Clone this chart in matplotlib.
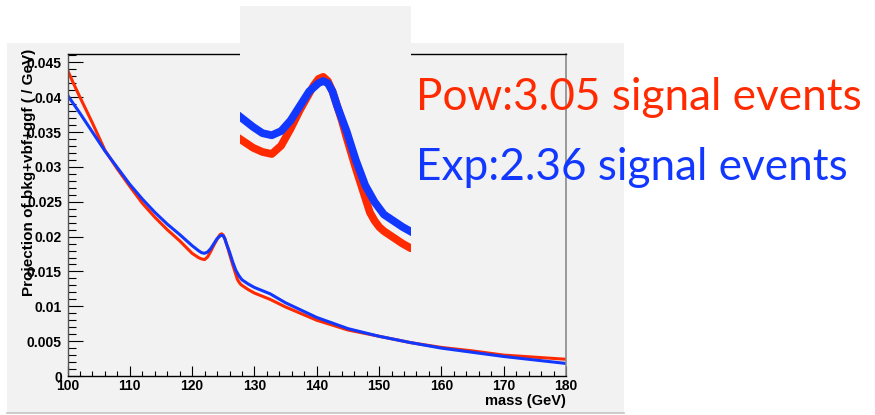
import matplotlib
matplotlib.use("Agg")
import matplotlib.pyplot as plt
from matplotlib.patches import Rectangle
from matplotlib.ticker import MultipleLocator, FixedFormatter, FixedLocator

# Diphoton mass projection of the bkg+vbf+ggf model, two background shapes
mass = [100, 101, 102, 104, 106, 108, 110, 112, 114, 116, 118, 120, 121,
        121.5, 122, 122.5, 123, 123.5, 124, 124.25, 124.5, 124.75, 125,
        125.25, 125.5, 125.75, 126, 126.5, 127, 127.25, 127.5, 127.75, 128,
        128.5, 129, 130, 132.5, 135, 140, 145, 150, 155, 160, 165, 170, 175,
        180]
pow_shape = [0.0439, 0.0419, 0.0400, 0.0363, 0.0324, 0.0297, 0.0272, 0.0248,
             0.0228, 0.0210, 0.0194, 0.0176, 0.0170, 0.0168, 0.0167, 0.0171,
             0.0179, 0.0188, 0.0196, 0.0200, 0.0203, 0.0204, 0.0202, 0.0197,
             0.0190, 0.0183, 0.0175, 0.0160, 0.0146, 0.0139, 0.0135, 0.0132,
             0.0130, 0.0127, 0.0124, 0.0119, 0.0110, 0.0099, 0.0080, 0.0066,
             0.0057, 0.0048, 0.0041, 0.0036, 0.0030, 0.0027, 0.0024]
exp_shape = [0.0403, 0.0390, 0.0377, 0.0350, 0.0323, 0.0299, 0.0275, 0.0254,
             0.0235, 0.0218, 0.0203, 0.0187, 0.0180, 0.0177, 0.0176, 0.0178,
             0.0183, 0.0190, 0.0197, 0.0199, 0.0201, 0.0202, 0.0201, 0.0197,
             0.0190, 0.0184, 0.0178, 0.0164, 0.0152, 0.0148, 0.0144, 0.0141,
             0.0138, 0.0135, 0.0132, 0.0127, 0.0118, 0.0105, 0.0084, 0.0068,
             0.0057, 0.0048, 0.0040, 0.0034, 0.0028, 0.0023, 0.0018]

x_major = [100, 110, 120, 130, 140, 150, 160, 170, 180]
y_major = [0, 0.005, 0.01, 0.015, 0.02, 0.025, 0.03, 0.035, 0.04, 0.045]
y_tick_labels = ["0", "0.005", "0.01", "0.015", "0.02", "0.025", "0.03",
                 "0.035", "0.04", "0.045"]

pow_label = "Pow:3.05 signal events"
exp_label = "Exp:2.36 signal events"

RED = "#ff2a00"
BLUE = "#1238ff"
PANEL = "#f2f2f2"

W, H = 875, 415
fig = plt.figure(figsize=(W / 100, H / 100), dpi=100)
fig.patch.set_facecolor("white")

def fx(px):
    return px / W

def fy(py):
    return (H - py) / H

# canvas panel behind the frame
fig.add_artist(Rectangle((fx(7), fy(413)), fx(624) - fx(7), fy(43) - fy(413),
                         transform=fig.transFigure, facecolor=PANEL,
                         edgecolor="none", zorder=-10))
fig.add_artist(plt.Line2D([fx(7), fx(624)], [fy(413), fy(413)],
                          transform=fig.transFigure, color="#c4c4c4", lw=1.2,
                          zorder=-9))

ax = fig.add_axes([fx(67.5), fy(376), fx(566) - fx(67.5), fy(54) - fy(376)])
ax.set_facecolor(PANEL)
ax.plot(mass, pow_shape, color=RED, lw=2.2, solid_capstyle="butt",
        solid_joinstyle="round")
ax.plot(mass, exp_shape, color=BLUE, lw=2.2, solid_capstyle="butt",
        solid_joinstyle="round")
ax.set_xlim(100, 180)
ax.set_ylim(0, 0.0462)

ax.xaxis.set_major_locator(FixedLocator(x_major))
ax.xaxis.set_minor_locator(MultipleLocator(2))
ax.yaxis.set_major_locator(FixedLocator(y_major))
ax.yaxis.set_major_formatter(FixedFormatter(y_tick_labels))
ax.yaxis.set_minor_locator(MultipleLocator(0.001))
ax.tick_params(axis="both", which="both", direction="in", colors="black",
               width=0.8, top=False, right=False)
ax.tick_params(axis="y", which="major", length=11, pad=4)
ax.tick_params(axis="y", which="minor", length=5.8)
ax.tick_params(axis="x", which="major", length=7.2, pad=2)
ax.tick_params(axis="x", which="minor", length=3.6)
for lab in ax.get_xticklabels() + ax.get_yticklabels():
    lab.set_fontfamily("Liberation Sans")
    lab.set_fontweight("bold")
    lab.set_fontsize(10)
for side in ("left", "bottom", "top"):
    ax.spines[side].set_color("black")
    ax.spines[side].set_linewidth(1.0)
ax.spines["right"].set_color("#8a8a8a")
ax.spines["right"].set_linewidth(1.2)
ax.spines["left"].set_color("#555555")

fig.text(fx(566), fy(401), "mass (GeV)", ha="right", va="center",
         family="Liberation Sans", weight="bold", fontsize=10.5)
fig.text(fx(29), fy(172), "Projection of bkg+vbf+ggf ( / GeV)", rotation=90,
         ha="center", va="center", family="Liberation Sans", weight="bold",
         fontsize=11)

# magnified view of the signal peak
ins = fig.add_axes([fx(240), fy(252), fx(411) - fx(240), fy(6) - fy(252)])
ins.set_facecolor(PANEL)
ins.plot(mass, pow_shape, color=RED, lw=5.6, solid_capstyle="butt",
         solid_joinstyle="round")
ins.plot(mass, exp_shape, color=BLUE, lw=5.6, solid_capstyle="butt",
         solid_joinstyle="round")
ins.set_xlim(120.3, 129.45)
ins.set_ylim(0.0120, 0.0238)
ins.set_xticks([])
ins.set_yticks([])
for s in ins.spines.values():
    s.set_visible(False)

fig.text(fx(416), fy(110), pow_label, color=RED, family="Lato",
         fontsize=31.8, ha="left", va="baseline")
fig.text(fx(416), fy(180), exp_label, color=BLUE, family="Lato",
         fontsize=31.8, ha="left", va="baseline")

fig.savefig("out.png", dpi=100, facecolor="white")
